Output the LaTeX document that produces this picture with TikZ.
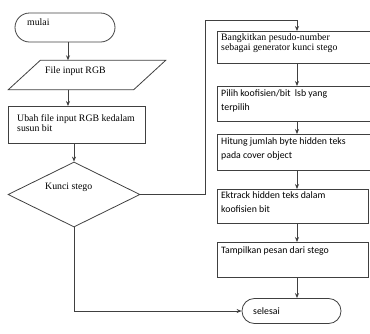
\documentclass[tikz,border=0pt]{standalone}
\usepackage{fontspec}
\newfontfamily\timesfont{Liberation Serif}
\newfontfamily\calfont{Carlito}
\usetikzlibrary{shapes.geometric, arrows.meta, positioning}

\begin{document}
\begin{tikzpicture}[x=1pt, y=-1pt,
    line/.style={draw=black!75, line width=0.8pt},
    arr/.style={line, -{Stealth[length=5pt, width=4pt]}},
    box/.style={line, rectangle, inner sep=0pt, anchor=north west},
    term/.style={line, rectangle, inner sep=0pt},
    txt/.style={inner sep=0pt, anchor=base west, align=left, font=\timesfont\fontsize{9.8}{10.5}\selectfont},
    stxt/.style={txt, font=\calfont\fontsize{9.8}{14}\selectfont}]
    \useasboundingbox (0,0) rectangle (370,333);
    \clip (0,0) rectangle (370,333);

    % kolom kiri
    \coordinate (kiri) at (68,0);
    \coordinate (kanan) at (297,0);
    \node[term, rounded corners=14.5pt, minimum width=100, minimum height=29] (mulai) at (65,27.5) {};
    \node[inner sep=0pt, minimum width=125, minimum height=29] (input) at (87,75) {};
    \draw[line] ([xshift=16pt]input.north west) -- ([xshift=16pt]input.north east)
        -- ([xshift=-16pt]input.south east) -- ([xshift=-16pt]input.south west) -- cycle;
    \node[box, minimum width=137, minimum height=37] (ubah) at (8,106) {};
    \node[line, diamond, minimum width=132, minimum height=65, inner sep=1pt] (kunci) at (74,194.5) {};

    \node[txt] (tmulai) at (27,25.5) {mulai};
    \node[txt] (tinput) at (45,73.5) {File input RGB};
    \node[txt] (tubah) at (17,131.5) {Ubah file input RGB kedalam\\susun bit};
    \node[txt] (tkunci) at (45,189) {Kunci stego};

    % kolom kanan
    \node[box, minimum width=165, minimum height=32] (b1) at (217,31) {};
    \node[box, minimum width=165, minimum height=35] (b2) at (217,86) {};
    \node[box, minimum width=165, minimum height=36] (b3) at (217,134) {};
    \node[box, minimum width=151, minimum height=34] (b4) at (217,189) {};
    \node[box, minimum width=151, minimum height=35] (b5) at (217,242) {};
    \node[term, rounded corners=12.4pt, minimum width=99, minimum height=25] (selesai) at (291.5,311) {};

    \node[txt] (tb1) at (221,50.5) {Bangkitkan pesudo-number\\sebagai generator kunci stego};
    \node[stxt] (tb2) at (221,110) {Pilih koofisien/bit\ \ lsb yang\\terpilih};
    \node[stxt] (tb3) at (221,158) {Hitung jumlah byte hidden teks\\pada cover object};
    \node[stxt] (tb4) at (221,212) {Ektrack hidden teks dalam\\koofisien bit};
    \node[stxt] (tb5) at (221,253) {Tampilkan pesan dari stego};
    \node[stxt] (tselesai) at (253,314) {selesai};

    % panah
    \draw[arr] (mulai.south -| kiri) -- (input.north -| kiri);
    \draw[arr] (input.south -| kiri) -- (ubah.north -| kiri);
    \draw[arr] (ubah.south -| kunci.north) -- (kunci.north);
    \coordinate (belok) at (205,20);
    \draw[arr] (kunci.east) -| (belok) -- (belok -| kanan) -- (b1.north -| kanan);
    \draw[arr] (b1.south -| kanan) -- (b2.north -| kanan);
    \draw[arr] (b2.south -| kanan) -- (b3.north -| kanan);
    \draw[arr] (b3.south -| kanan) -- (b4.north -| kanan);
    \draw[arr] (b4.south -| kanan) -- (b5.north -| kanan);
    \draw[arr] (b5.south -| kanan) -- (selesai.north -| kanan);
    \draw[arr] (kunci.south) |- (selesai.west);
\end{tikzpicture}
\end{document}
